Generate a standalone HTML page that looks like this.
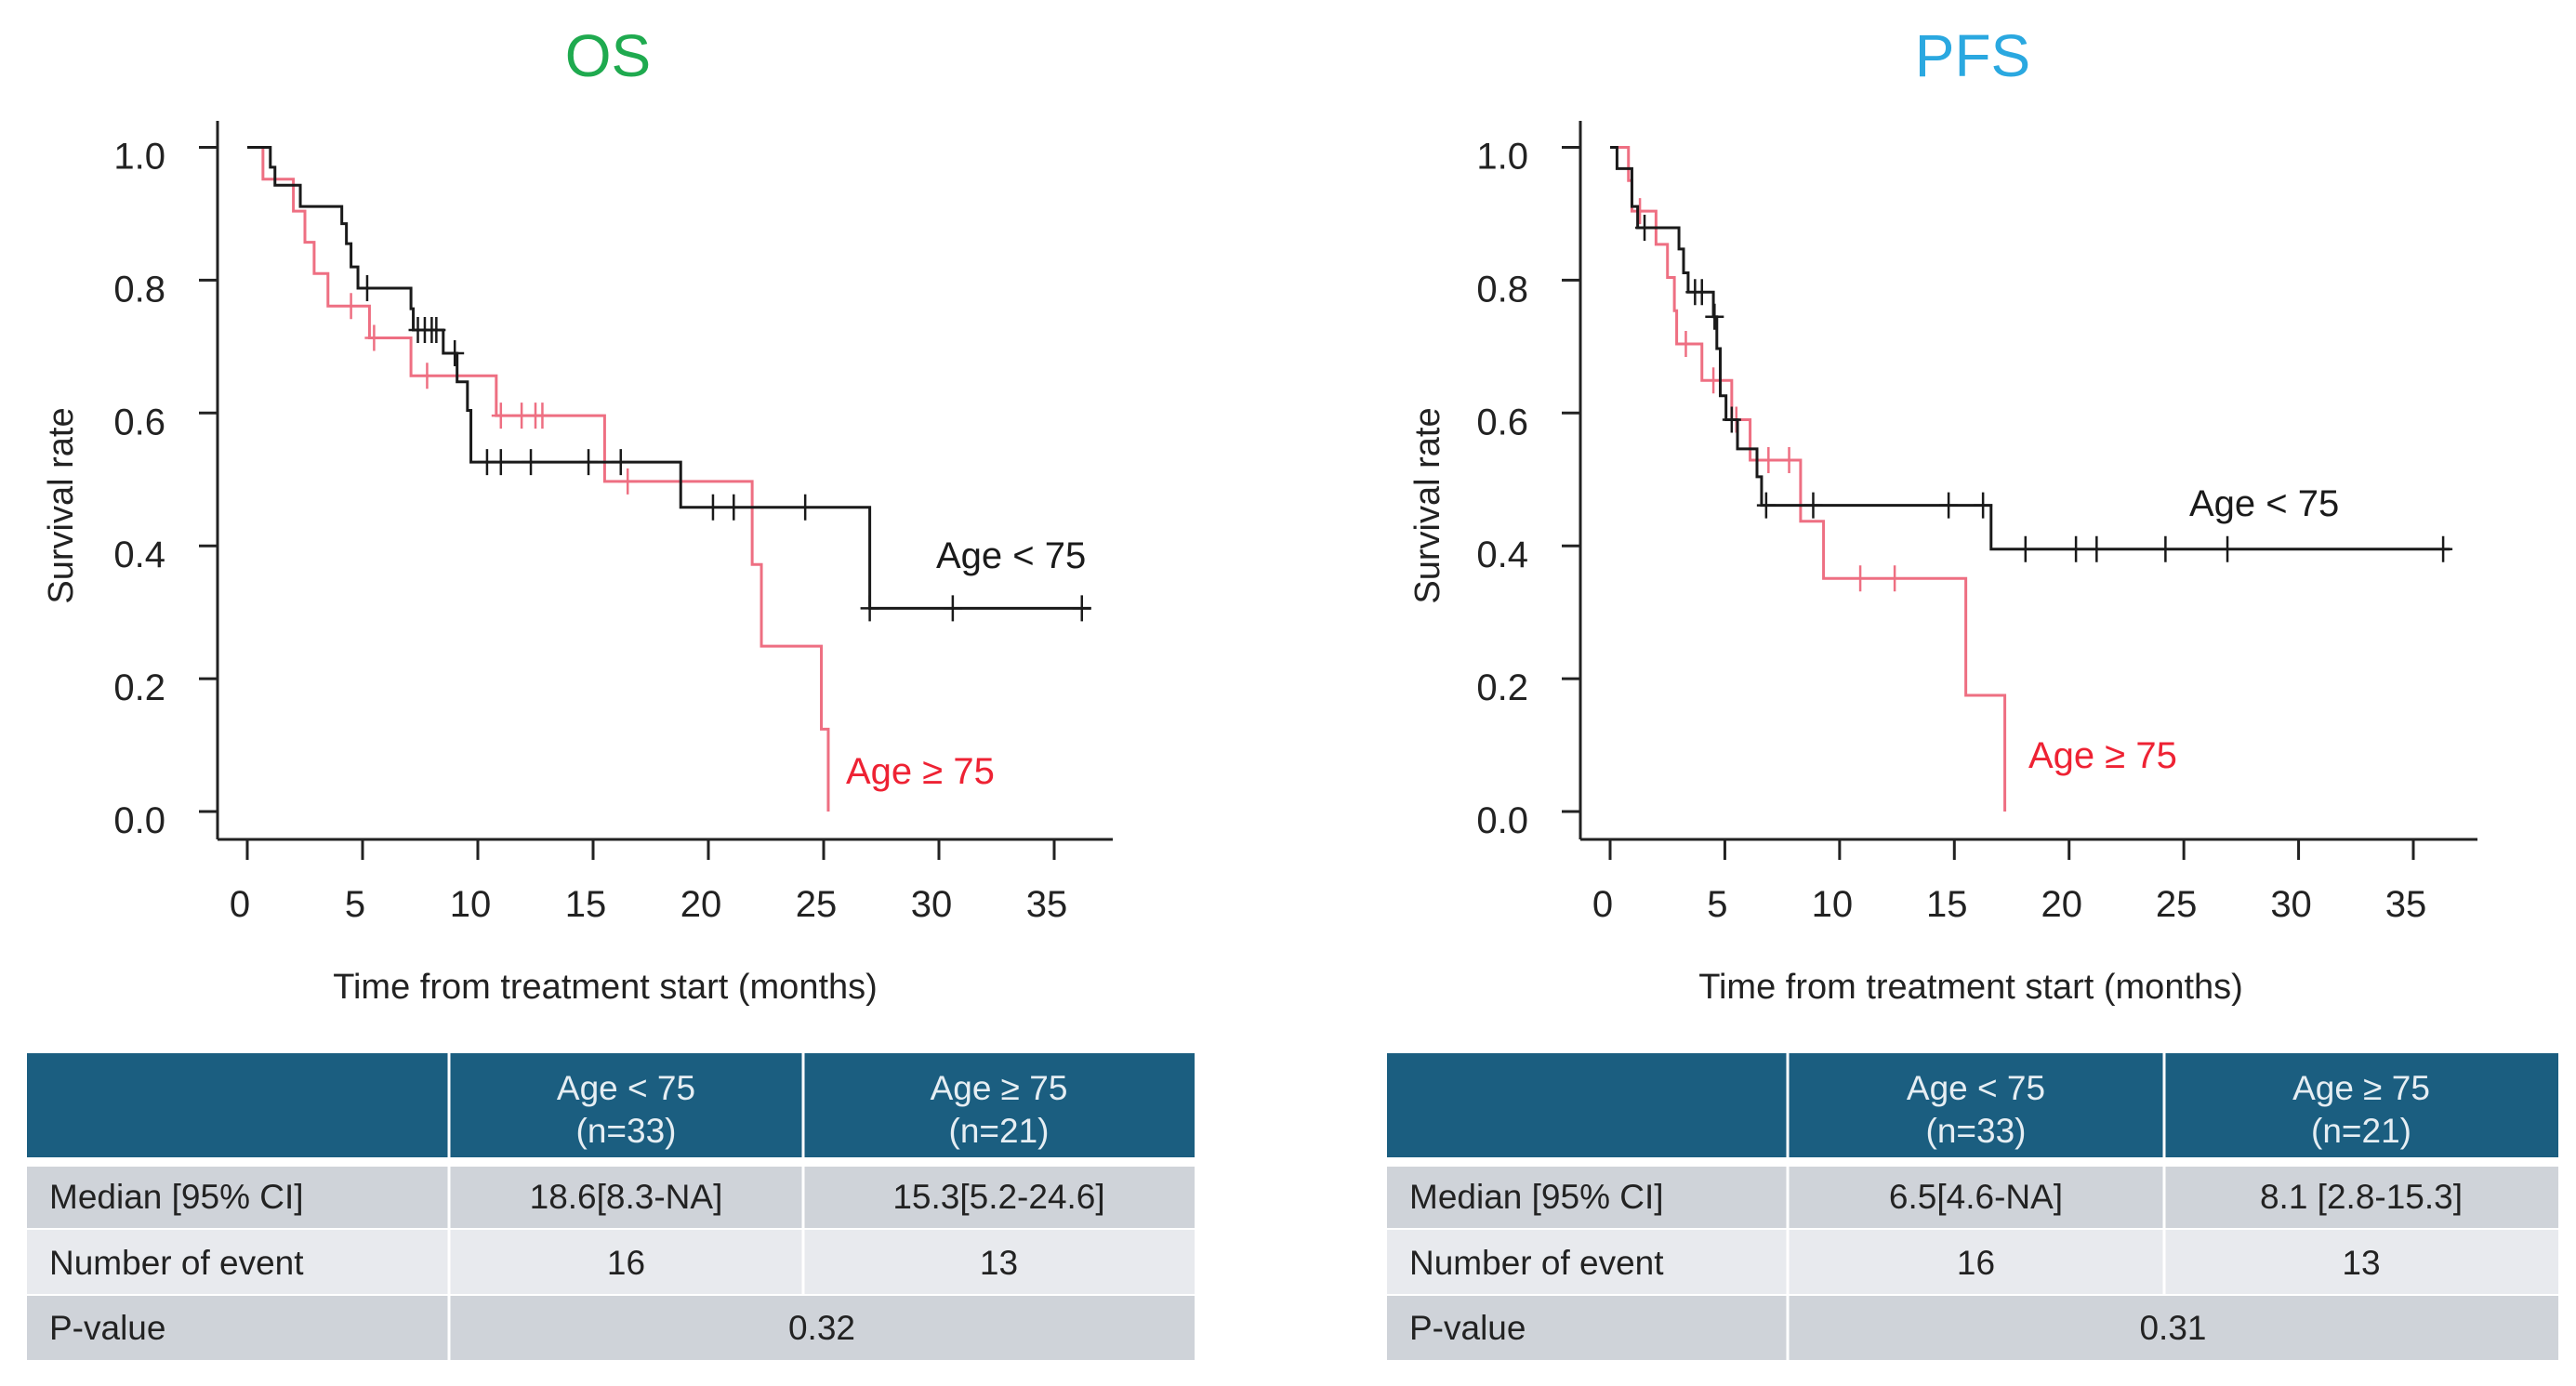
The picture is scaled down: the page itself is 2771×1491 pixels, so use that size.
<!DOCTYPE html>
<html><head><meta charset="utf-8"><style>
html,body{margin:0;padding:0;background:#fff;width:2771px;height:1491px;overflow:hidden}
svg{display:block}
text{font-family:"Liberation Sans",sans-serif}
</style></head><body>
<svg id="chart" width="2771" height="1491" viewBox="0 0 2771 1491" xmlns="http://www.w3.org/2000/svg"></svg>
<script>
// ---- data ----
const xTicks = [0,5,10,15,20,25,30,35];
const yTicks = [0.0,0.2,0.4,0.6,0.8,1.0];
const yTickLabels = ["0.0","0.2","0.4","0.6","0.8","1.0"];

const osYoungTimes = [1.0,1.2,2.3,4.1,4.3,4.5,4.8,7.1,7.2,8.5,9.1,9.55,9.7,18.8,27.0];
const osYoungSurv  = [0.97,0.943,0.911,0.885,0.855,0.82,0.788,0.757,0.725,0.69,0.647,0.604,0.526,0.458,0.306];
const osYoungCens  = [5.2,7.4,7.7,8.0,8.2,9.0,10.4,11.0,12.3,14.8,16.2,20.2,21.1,24.2,27.0,30.6,36.2];
const osYoungEnd   = 36.6;
const osOldTimes = [0.68,2.0,2.5,2.9,3.5,5.3,7.1,10.8,15.5,21.9,22.3,24.9,25.2];
const osOldSurv  = [0.952,0.904,0.857,0.81,0.761,0.713,0.656,0.596,0.497,0.372,0.249,0.124,0.0];
const osOldCens  = [4.5,5.5,7.8,11.0,11.9,12.5,12.8,16.5];
const osOldEnd   = 25.2;

const pfsYoungTimes = [0.3,0.95,1.2,3.0,3.2,3.4,4.5,4.65,4.8,5.05,5.55,6.4,6.6,16.6];
const pfsYoungSurv  = [0.968,0.911,0.879,0.847,0.811,0.782,0.745,0.697,0.626,0.59,0.546,0.504,0.461,0.395];
const pfsYoungCens  = [1.5,3.7,4.0,4.55,5.3,6.8,8.85,14.75,16.25,18.1,20.3,21.2,24.2,26.9,36.3];
const pfsYoungEnd   = 36.6;
const pfsOldTimes = [0.8,0.95,2.0,2.5,2.8,2.9,4.0,5.3,6.1,8.3,9.3,15.5,17.2];
const pfsOldSurv  = [0.95,0.904,0.854,0.804,0.754,0.704,0.649,0.59,0.529,0.437,0.351,0.175,0.0];
const pfsOldCens  = [1.3,3.3,4.5,5.5,6.9,7.8,10.9,12.4];
const pfsOldEnd   = 17.2;

const NS = "http://www.w3.org/2000/svg";
const svg = document.getElementById('chart');
function mk(tag, attrs, parent){
  const e = document.createElementNS(NS, tag);
  for (const k in attrs) e.setAttribute(k, attrs[k]);
  (parent||svg).appendChild(e);
  return e;
}

function survAt(times, surv, t){
  let s = 1;
  for (let i=0;i<times.length;i++){ if (times[i] <= t) s = surv[i]; }
  return s;
}

function panel(cfg){
  const g = mk('g', {});
  
  
  const xs = t => cfg.x0 + (t/35)*(cfg.x35 - cfg.x0);
  const ys = v => cfg.y0 - v*(cfg.y0 - cfg.y1);

  const title = mk('text', {x:cfg.titleX, y:82, 'font-size':64, fill:cfg.titleColor, 'text-anchor':'middle'}, g);
  title.textContent = cfg.title;
  
  

  const yAxis = mk('line', {x1:cfg.axX, y1:130, x2:cfg.axX, y2:903, stroke:'#222', 'stroke-width':3}, g);
  
  
  const xAxis = mk('line', {x1:cfg.axX, y1:903, x2:cfg.axRight, y2:903, stroke:'#222', 'stroke-width':3}, g);
  
  

  yTicks.forEach((v,i)=>{
    mk('line', {x1:cfg.axX-20, y1:ys(v), x2:cfg.axX, y2:ys(v), stroke:'#222', 'stroke-width':3}, g);
    const t = mk('text', {x:cfg.axX-56, y:ys(v)+23, 'font-size':40, fill:'#222', 'text-anchor':'end'}, g);
    t.textContent = yTickLabels[i];
    
    
  });
  xTicks.forEach(v=>{
    mk('line', {x1:xs(v), y1:903, x2:xs(v), y2:925, stroke:'#222', 'stroke-width':3}, g);
    const t = mk('text', {x:xs(v)-8, y:986, 'font-size':40, fill:'#222', 'text-anchor':'middle'}, g);
    t.textContent = String(v);
    
    
  });
  const xt = mk('text', {x:cfg.xTitleX, y:1074, 'font-size':38, fill:'#222', 'text-anchor':'middle'}, g);
  xt.textContent = 'Time from treatment start (months)';
  
  
  const yt = mk('text', {x:0, y:0, 'font-size':38, fill:'#222', 'text-anchor':'middle', transform:`translate(${cfg.yTitleX},544) rotate(-90)`}, g);
  yt.textContent = 'Survival rate';
  
  

  function curve(times, surv, cens, end, color, nm){
    let d = `M${xs(0)},${ys(1)}`;
    let prev = 1;
    for (let i=0;i<times.length;i++){
      d += ` H${xs(times[i])} V${ys(surv[i])}`;
      prev = surv[i];
    }
    if (prev > 0) d += ` H${xs(end)}`;
    const p = mk('path', {d:d, fill:'none', stroke:color, 'stroke-width':3}, g);
    
    
    cens.forEach(c=>{
      const s = survAt(times, surv, c);
      const m = mk('path', {d:`M${xs(c)},${ys(s)-14} V${ys(s)+14} M${xs(c)-10},${ys(s)} H${xs(c)+10}`, stroke:color, 'stroke-width':2.5, fill:'none'}, g);
      
      
    });
  }
  curve(cfg.oldT, cfg.oldS, cfg.oldC, cfg.oldE, '#ee6f82', cfg.name + '-age-75-plus');
  curve(cfg.youngT, cfg.youngS, cfg.youngC, cfg.youngE, '#1a1a1a', cfg.name + '-age-under-75');

  const l1 = mk('text', {x:cfg.lbl1[0], y:cfg.lbl1[1], 'font-size':40, fill:'#1a1a1a'}, g);
  l1.textContent = 'Age < 75';
  
  
  const l2 = mk('text', {x:cfg.lbl2[0], y:cfg.lbl2[1], 'font-size':40, fill:'#ee2233'}, g);
  l2.textContent = 'Age \u2265 75';
  
  
}

panel({name:'os', title:'OS', titleColor:'#1faa4f', titleX:654, x0:266, x35:1134, y0:873, y1:158.5,
  axX:234, axRight:1197, xTitleX:651, yTitleX:78,
  youngT:osYoungTimes, youngS:osYoungSurv, youngC:osYoungCens, youngE:osYoungEnd,
  oldT:osOldTimes, oldS:osOldSurv, oldC:osOldCens, oldE:osOldEnd,
  lbl1:[1007,611], lbl2:[910,843]});
panel({name:'pfs', title:'PFS', titleColor:'#2aa8e0', titleX:2122, x0:1732, x35:2596, y0:873, y1:158.5,
  axX:1700, axRight:2665, xTitleX:2120, yTitleX:1548,
  youngT:pfsYoungTimes, youngS:pfsYoungSurv, youngC:pfsYoungCens, youngE:pfsYoungEnd,
  oldT:pfsOldTimes, oldS:pfsOldSurv, oldC:pfsOldCens, oldE:pfsOldEnd,
  lbl1:[2355,555], lbl2:[2182,826]});

// ---- tables ----
function table(name, cols, median, events, pval){
  const g = mk('g', {});
  
  
  const [c0,c1,c2,c3] = cols;
  const hdr = mk('rect', {x:c0, y:1133, width:c3-c0, height:112, fill:'#1b5e80'}, g);
  
  
  const rows = [[1255,1321,'#cfd3d9'],[1323,1392,'#e8eaee'],[1394,1463,'#cfd3d9']];
  rows.forEach(r=>{
    const rc = mk('rect', {x:c0, y:r[0], width:c3-c0, height:r[1]-r[0], fill:r[2]}, g);
    
    
  });
  [c1,c2].forEach(c=> mk('line', {x1:c, y1:1133, x2:c, y2:1394, stroke:'#fff', 'stroke-width':3}, g));
  mk('line', {x1:c1, y1:1394, x2:c1, y2:1463, stroke:'#fff', 'stroke-width':3}, g);
  function txt(x,y,s,anchor,fill,nm){
    const t = mk('text', {x:x, y:y, 'font-size':37, fill:fill, 'text-anchor':anchor}, g);
    t.textContent = s;
    
    
  }
  const m1=(c1+c2)/2, m2=(c2+c3)/2;
  txt(m1,1183,'Age < 75','middle','#e6eef3','header-age-under-75');
  txt(m1,1229,'(n=33)','middle','#e6eef3','header-n-under-75');
  txt(m2,1183,'Age \u2265 75','middle','#e6eef3','header-age-75-plus');
  txt(m2,1229,'(n=21)','middle','#e6eef3','header-n-75-plus');
  txt(c0+24,1300,'Median [95% CI]','start','#222','median-label');
  txt(m1,1300,median[0],'middle','#222','median-under-75');
  txt(m2,1300,median[1],'middle','#222','median-75-plus');
  txt(c0+24,1371,'Number of event','start','#222','events-label');
  txt(m1,1371,events[0],'middle','#222','events-under-75');
  txt(m2,1371,events[1],'middle','#222','events-75-plus');
  txt(c0+24,1441,'P-value','start','#222','pvalue-label');
  txt((c1+c3)/2,1441,pval,'middle','#222','pvalue');
}
table('os', [29,483,864,1285], ['18.6[8.3-NA]','15.3[5.2-24.6]'], ['16','13'], '0.32');
table('pfs', [1492,1923,2328,2752], ['6.5[4.6-NA]','8.1 [2.8-15.3]'], ['16','13'], '0.31');
</script>
</body></html>
